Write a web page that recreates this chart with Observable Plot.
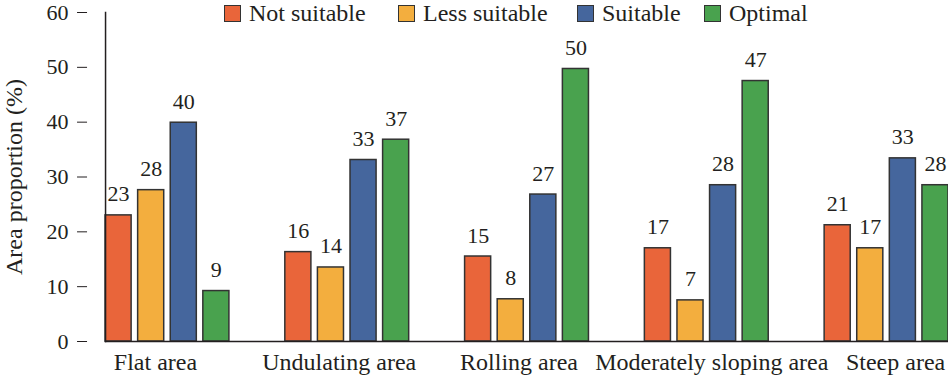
<!DOCTYPE html>
<html>
<head>
<meta charset="utf-8">
<script src="https://cdn.jsdelivr.net/npm/d3@7"></script>
<script src="https://cdn.jsdelivr.net/npm/@observablehq/plot@0.6"></script>
<style>
  body { margin: 0; background: #fff; }
  #wrap { position: relative; width: 948px; height: 377px; font-family: "Liberation Serif", "Times New Roman", serif; color: #231f20; }
  #wrap svg, #wrap svg text { font-family: "Liberation Serif", "Times New Roman", serif !important; }
  #wrap svg g[aria-label="y-axis label"] text { font-size: 24px; }
  #wrap svg g[aria-label="fx-axis tick label"] text { font-size: 24px; }
  #legend { position: absolute; top: 0; left: 0; width: 948px; height: 28px; pointer-events: none; }
  .item { position: absolute; top: 0; height: 27px; display: flex; align-items: center; font-size: 24px; line-height: 27px; white-space: nowrap; }
  .sw { width: 17px; height: 17px; box-sizing: border-box; border: 1.5px solid #333; margin-right: 8px; }
</style>
</head>
<body>
<div id="wrap"><div id="legend"></div></div>
<script>
const groups = ["Flat area", "Undulating area", "Rolling area", "Moderately sloping area", "Steep area"];
const series = ["Not suitable", "Less suitable", "Suitable", "Optimal"];
const colors = ["#E9653A", "#F3AE3E", "#45669D", "#49A24E"];

// bar heights (%)
const notSuitable  = [23.0, 16.3, 15.5, 17.0, 21.2];
const lessSuitable = [27.6, 13.5, 7.7, 7.5, 17.0];
const suitable     = [39.9, 33.1, 26.8, 28.5, 33.4];
const optimal      = [9.2, 36.8, 49.7, 47.5, 28.5];

// printed value labels
const notSuitableLabels  = [23, 16, 15, 17, 21];
const lessSuitableLabels = [28, 14, 8, 7, 17];
const suitableLabels     = [40, 33, 27, 28, 33];
const optimalLabels      = [9, 37, 50, 47, 28];

const yTicks = [0, 10, 20, 30, 40, 50, 60];

const values = [notSuitable, lessSuitable, suitable, optimal];
const labels = [notSuitableLabels, lessSuitableLabels, suitableLabels, optimalLabels];
const data = [];
groups.forEach((g, gi) => series.forEach((s, si) => {
  data.push({group: g, series: s, value: values[si][gi], label: String(labels[si][gi])});
}));

// per-category nudges of the category labels (layout only)
const labelNudge = [-12, -8, -8, 5, 9];
const fxLabelMarks = groups.map((g, i) =>
  Plot.axisFx({anchor: "bottom", ticks: [g], tickSize: 0, tickPadding: 11, dx: labelNudge[i], label: null, fontSize: 24})
);

const chart = Plot.plot({
  width: 948,
  height: 377,
  marginLeft: 77,
  marginRight: 0,
  marginTop: 12,
  marginBottom: 36,
  style: {fontFamily: "Liberation Serif", fontSize: "22px", color: "#231f20", background: "transparent", overflow: "visible"},
  fx: {domain: groups, paddingInner: 0.311, paddingOuter: 0.078, align: 1, round: false, label: null},
  x: {domain: series, paddingInner: 0.2, paddingOuter: 0, round: false, axis: null},
  y: {domain: [0, 60]},
  color: {domain: series, range: colors},
  marks: [
    Plot.barY(data, {fx: "group", x: "series", y: "value", fill: "series", stroke: "#333", strokeWidth: 1.5}),
    Plot.text(data, {fx: "group", x: "series", y: "value", text: "label", dy: -14, lineAnchor: "bottom", fill: "#231f20", fontSize: 22}),
    Plot.axisY({ticks: yTicks, tickSize: -10, tickPadding: 19, dx: -28, stroke: "#231f20", label: "Area proportion (%)", labelAnchor: "center", labelArrow: "none", labelOffset: 101}),
    ...fxLabelMarks,
    Plot.frame({facet: "super", anchor: "bottom", stroke: "#231f20", strokeWidth: 1.5}),
    Plot.frame({facet: "super", anchor: "left", stroke: "#231f20", strokeWidth: 1.5})
  ]
});
document.getElementById("wrap").prepend(chart);

const legendPos = [224, 398, 577, 704];
const legend = document.getElementById("legend");
series.forEach((s, i) => {
  const item = document.createElement("div");
  item.className = "item";
  item.style.left = legendPos[i] + "px";
  const sw = document.createElement("span");
  sw.className = "sw";
  sw.style.background = colors[i];
  item.appendChild(sw);
  item.appendChild(document.createTextNode(s));
  legend.appendChild(item);
});
</script>
</body>
</html>
